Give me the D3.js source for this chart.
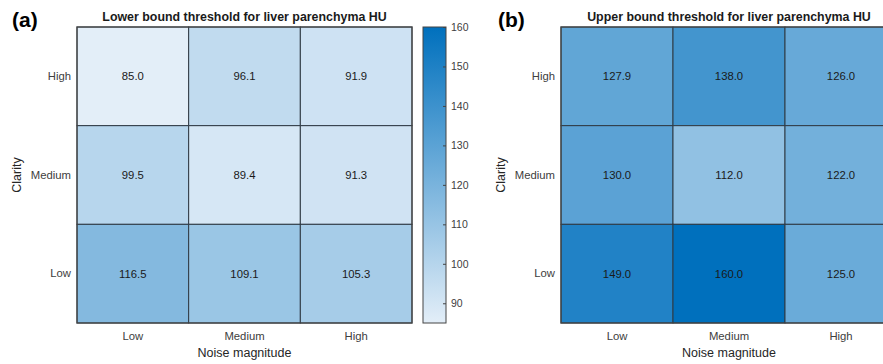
<!DOCTYPE html>
<html>
<head>
<meta charset="utf-8">
<script src="https://cdn.jsdelivr.net/npm/d3@7"></script>
<style>
  body { margin: 0; background: #fff; }
  text { font-family: "Liberation Sans", Arial, sans-serif; }
</style>
</head>
<body>
<div id="chart"></div>
<script>
// categories
var noiseLevels = ["Low", "Medium", "High"];      // x
var clarityLevels = ["High", "Medium", "Low"];    // y, top to bottom

// values, rows follow clarityLevels, columns follow noiseLevels
var lowerBound = [
  [85.0, 96.1, 91.9],
  [99.5, 89.4, 91.3],
  [116.5, 109.1, 105.3]
];
var upperBound = [
  [127.9, 138.0, 126.0],
  [130.0, 112.0, 122.0],
  [149.0, 160.0, 125.0]
];

var colorDomain = [85, 160];
var colorTicks = [90, 100, 110, 120, 130, 140, 150, 160];

var panelTitles = ["Lower bound threshold for liver parenchyma HU", "Upper bound threshold for liver parenchyma HU"];
var panelTags = ["(a)", "(b)"];

var width = 883, height = 364;
var svg = d3.select("#chart").append("svg")
  .attr("width", width)
  .attr("height", height);

var color = d3.scaleLinear()
  .domain(colorDomain)
  .range(["#e3eef8", "#0070bd"])
  .interpolate(d3.interpolateRgb)
  .clamp(true);

function toCells(matrix) {
  var out = [];
  matrix.forEach(function(row, i) {
    row.forEach(function(v, j) {
      out.push({ clarity: clarityLevels[i], noise: noiseLevels[j], value: v });
    });
  });
  return out;
}

function heatmap(left, right, matrix, title, tag, tagX) {
  var top = 27, bottom = 323;
  var g = svg.append("g");

  var x = d3.scaleBand().domain(noiseLevels).range([left, right]);
  var y = d3.scaleBand().domain(clarityLevels).range([top, bottom]);

  g.selectAll("rect.cell")
    .data(toCells(matrix))
    .enter()
    .append("rect")
    .attr("class", "cell")
    .attr("x", d => x(d.noise))
    .attr("y", d => y(d.clarity))
    .attr("width", x.bandwidth())
    .attr("height", y.bandwidth())
    .attr("fill", d => color(d.value))
    .attr("stroke", "#2f3a44")
    .attr("stroke-width", 1);

  g.selectAll("text.val")
    .data(toCells(matrix))
    .enter()
    .append("text")
    .attr("class", "val")
    .attr("x", d => x(d.noise) + x.bandwidth() / 2)
    .attr("y", d => y(d.clarity) + y.bandwidth() / 2)
    .attr("dy", "0.35em")
    .attr("text-anchor", "middle")
    .attr("font-size", 11.3)
    .attr("fill", "#1a1a1a")
    .text(d => d.value.toFixed(1));

  // outer frame
  g.append("rect")
    .attr("x", left).attr("y", top)
    .attr("width", right - left).attr("height", bottom - top)
    .attr("fill", "none")
    .attr("stroke", "#444")
    .attr("stroke-width", 1.2);

  // axes (no lines, labels only)
  var xAxis = g.append("g")
    .attr("transform", "translate(0," + bottom + ")")
    .call(d3.axisBottom(x).tickSize(0).tickPadding(9));
  xAxis.select(".domain").remove();
  xAxis.selectAll("text").attr("font-size", 11.3).attr("fill", "#404040")
    .style("font-family", "Liberation Sans, Arial, sans-serif");

  var yAxis = g.append("g")
    .attr("transform", "translate(" + left + ",0)")
    .call(d3.axisLeft(y).tickSize(0).tickPadding(6));
  yAxis.select(".domain").remove();
  yAxis.selectAll("text").attr("font-size", 11.3).attr("fill", "#404040")
    .style("font-family", "Liberation Sans, Arial, sans-serif");

  g.append("text")
    .attr("x", (left + right) / 2)
    .attr("y", 357)
    .attr("text-anchor", "middle")
    .attr("font-size", 12.5)
    .attr("fill", "#262626")
    .text("Noise magnitude");

  g.append("text")
    .attr("transform", "translate(" + (left - 56) + "," + ((top + bottom) / 2) + ") rotate(-90)")
    .attr("text-anchor", "middle")
    .attr("font-size", 12.5)
    .attr("fill", "#262626")
    .text("Clarity");

  g.append("text")
    .attr("x", (left + right) / 2)
    .attr("y", 21)
    .attr("text-anchor", "middle")
    .attr("font-size", 12.4)
    .attr("font-weight", "bold")
    .attr("fill", "#1a1a1a")
    .text(title);

  g.append("text")
    .attr("x", tagX)
    .attr("y", 27)
    .attr("font-size", 21)
    .attr("font-weight", "bold")
    .attr("fill", "#000")
    .text(tag);
}

heatmap(77, 412, lowerBound, panelTitles[0], panelTags[0], 12);
heatmap(561, 897, upperBound, panelTitles[1], panelTags[1], 498);

// colorbar
var cbX = 423, cbW = 23, cbTop = 27, cbBottom = 323;
var cbScale = d3.scaleLinear().domain(colorDomain).range([cbBottom, cbTop]);

var defs = svg.append("defs");
var grad = defs.append("linearGradient")
  .attr("id", "cbGrad")
  .attr("x1", 0).attr("y1", 1).attr("x2", 0).attr("y2", 0);
grad.append("stop").attr("offset", "0%").attr("stop-color", color(colorDomain[0]));
grad.append("stop").attr("offset", "100%").attr("stop-color", color(colorDomain[1]));

svg.append("rect")
  .attr("x", cbX).attr("y", cbTop)
  .attr("width", cbW).attr("height", cbBottom - cbTop)
  .attr("fill", "url(#cbGrad)")
  .attr("stroke", "#444")
  .attr("stroke-width", 1);

var cbAxis = svg.append("g")
  .attr("transform", "translate(" + (cbX + cbW) + ",0)")
  .call(d3.axisRight(cbScale).tickValues(colorTicks).tickSize(0).tickPadding(5));
cbAxis.select(".domain").remove();
cbAxis.selectAll("text").attr("font-size", 10.5).attr("fill", "#404040")
  .style("font-family", "Liberation Sans, Arial, sans-serif");
cbAxis.selectAll(".tick").append("line")
  .attr("x1", -3).attr("x2", 0)
  .attr("stroke", "#444");
</script>
</body>
</html>
